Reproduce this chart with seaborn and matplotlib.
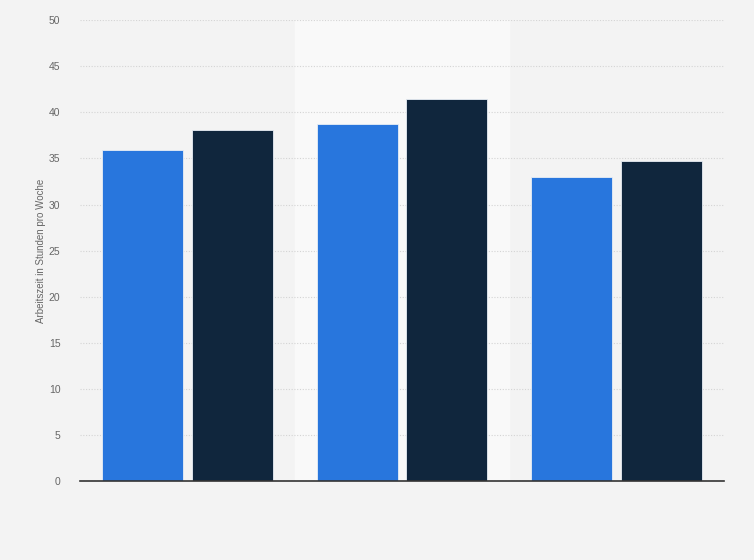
import matplotlib
matplotlib.use("Agg")
import matplotlib.pyplot as plt
import seaborn as sns
import pandas as pd

groups = ["A", "B", "C"]
series = ["Serie 1", "Serie 2"]
values_1 = [35.9, 38.7, 33.0]
values_2 = [38.1, 41.4, 34.7]
y_ticks = [0, 5, 10, 15, 20, 25, 30, 35, 40, 45, 50]

df = pd.DataFrame({
    "group": groups * 2,
    "series": [series[0]] * 3 + [series[1]] * 3,
    "value": values_1 + values_2,
})

sns.set_theme(style="white")
plt.rcParams["font.family"] = ["Liberation Sans", "DejaVu Sans"]

fig = plt.figure(figsize=(7.54, 5.6), dpi=100, facecolor="#f3f3f3")
ax = fig.add_axes([0.106, 0.141, 0.854, 0.823])
ax.set_facecolor("#f3f3f3")
ax.axvspan(0.5, 1.5, color="#f9f9f9", zorder=0)

sns.barplot(data=df, x="group", y="value", hue="series",
            palette=["#2876dd", "#10263d"], saturation=1, width=0.835, gap=0.097,
            edgecolor="#e8eef5", linewidth=0.6, legend=False, ax=ax, zorder=3)

ax.set_xlim(-0.5, 2.5)
ax.set_ylim(0, 50)
ax.set_yticks(y_ticks)
ax.set_yticklabels([str(t) for t in y_ticks], color="#666666", fontsize=7.5)
ax.tick_params(axis="y", length=0, pad=14)
ax.set_xticks([])
ax.set_xlabel("")
ax.set_ylabel("Arbeitszeit in Stunden pro Woche", color="#666666", fontsize=7, labelpad=0)
ax.yaxis.set_label_coords(-0.053, 0.5)
ax.yaxis.grid(True, linestyle=(0, (1, 1.5)), color="#d4d4d4", linewidth=0.8)
ax.set_axisbelow(True)
for s in ["top", "right", "left"]:
    ax.spines[s].set_visible(False)
ax.spines["bottom"].set_color("#333333")
ax.spines["bottom"].set_linewidth(1.2)
ax.spines["bottom"].set_zorder(5)

fig.savefig("out.png", dpi=100, facecolor=fig.get_facecolor())
